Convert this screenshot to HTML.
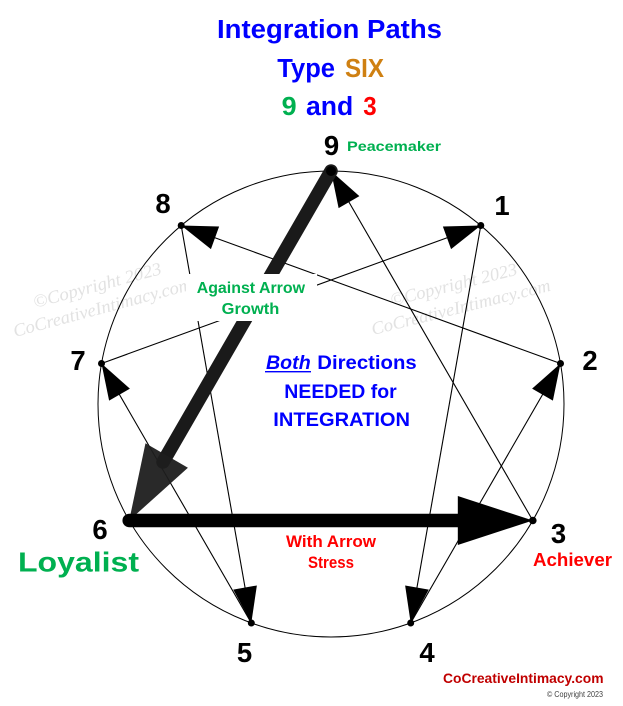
<!DOCTYPE html>
<html>
<head>
<meta charset="utf-8">
<style>
  html, body { margin: 0; padding: 0; background: #ffffff; }
  svg { display: block; }
  .sans { font-family: "Liberation Sans", Arial, sans-serif; font-weight: bold; }
  .serif { font-family: "Liberation Serif", "Times New Roman", serif; font-style: italic; }
</style>
</head>
<body>
<svg width="623" height="706" viewBox="0 0 623 706" xmlns="http://www.w3.org/2000/svg">
  <rect x="0" y="0" width="623" height="706" fill="#ffffff"/>

  <!-- watermarks -->
  <g class="serif" fill="#e2e2e2" font-size="18">
    <text x="35" y="308" transform="rotate(-15 35 308)" textLength="132" lengthAdjust="spacingAndGlyphs">©Copyright 2023</text>
    <text x="15" y="337" transform="rotate(-15 15 337)" textLength="184" lengthAdjust="spacingAndGlyphs">CoCreativeIntimacy.com</text>
    <text x="392" y="306" transform="rotate(-14 392 306)" textLength="130" lengthAdjust="spacingAndGlyphs">©Copyright 2023</text>
    <text x="373" y="335" transform="rotate(-14 373 335)" textLength="184" lengthAdjust="spacingAndGlyphs">CoCreativeIntimacy.com</text>
  </g>

  <!-- circle -->
  <circle cx="331" cy="404" r="233" fill="none" stroke="#000" stroke-width="1"/>

  <!-- thin lines -->
  <g stroke="#000" stroke-width="1.1" fill="none">
    <line x1="532.8" y1="520.5" x2="331" y2="171"/>
    <line x1="480.8" y1="225.5" x2="410.7" y2="623"/>
    <line x1="410.7" y1="623" x2="560.5" y2="363.5"/>
    <line x1="560.5" y1="363.5" x2="181.2" y2="225.5"/>
    <line x1="181.2" y1="225.5" x2="251.3" y2="623"/>
    <line x1="251.3" y1="623" x2="101.5" y2="363.5"/>
    <line x1="101.5" y1="363.5" x2="480.8" y2="225.5"/>
  </g>

  <!-- thin arrowheads -->
  <g fill="#000">
    <polygon points="331,171 359.39,196.18 338.61,208.18"/>
    <polygon points="480.8,225.5 451.07,249.09 442.87,226.53"/>
    <polygon points="181.2,225.5 219.13,226.53 210.93,249.09"/>
    <polygon points="560.5,363.5 552.89,400.68 532.11,388.68"/>
    <polygon points="101.5,363.5 129.89,388.68 109.11,400.68"/>
    <polygon points="251.3,623 233.23,589.62 256.87,585.46"/>
    <polygon points="410.7,623 405.13,585.46 428.77,589.62"/>
  </g>

  <!-- thick 9 -> 6 -->
  <line x1="331" y1="171" x2="163" y2="462" stroke="#1a1a1a" stroke-width="13.5" stroke-linecap="round"/>
  <polygon points="129.2,520.5 145.48,443.3 187.92,467.8" fill="#1e1e1e" fill-opacity="0.95"/>

  <!-- thick 6 -> 3 -->
  <line x1="129.2" y1="520.5" x2="462" y2="520.5" stroke="#000" stroke-width="13.5" stroke-linecap="round"/>
  <polygon points="532.8,520.5 457.8,496 457.8,545" fill="#000"/>

  <!-- dots -->
  <g fill="#000">
    <circle cx="331" cy="171" r="5"/>
    <circle cx="480.8" cy="225.5" r="3.5"/>
    <circle cx="560.5" cy="363.5" r="3.5"/>
    <circle cx="532.8" cy="520.5" r="3.8"/>
    <circle cx="410.7" cy="623" r="3.5"/>
    <circle cx="251.3" cy="623" r="3.5"/>
    <circle cx="129.2" cy="520.5" r="3.5"/>
    <circle cx="101.5" cy="363.5" r="3.5"/>
    <circle cx="181.2" cy="225.5" r="3.5"/>
  </g>

  <!-- white label box -->
  <rect x="186" y="274" width="131" height="47" fill="#ffffff"/>

  <!-- title -->
  <g class="sans" font-size="25.5">
    <text x="217" y="38" fill="#0000ff" textLength="225" lengthAdjust="spacingAndGlyphs">Integration Paths</text>
    <text x="277.3" y="77" fill="#0000ff" textLength="57.7" lengthAdjust="spacingAndGlyphs">Type</text>
    <text x="345" y="77" fill="#cf8012" textLength="39" lengthAdjust="spacingAndGlyphs">SIX</text>
    <text x="281.7" y="115" fill="#00b050" textLength="15" lengthAdjust="spacingAndGlyphs">9</text>
    <text x="306" y="115" fill="#0000ff" textLength="47.3" lengthAdjust="spacingAndGlyphs">and</text>
    <text x="363.3" y="115" fill="#ff0000" textLength="13.4" lengthAdjust="spacingAndGlyphs">3</text>
  </g>

  <!-- labels -->
  <g class="sans">
    <text x="347" y="151" font-size="14" fill="#00b050" textLength="94" lengthAdjust="spacingAndGlyphs">Peacemaker</text>
    <text x="196.7" y="293" font-size="16" fill="#00b050" textLength="108.3" lengthAdjust="spacingAndGlyphs">Against Arrow</text>
    <text x="221.7" y="314" font-size="16" fill="#00b050" textLength="57.6" lengthAdjust="spacingAndGlyphs">Growth</text>

    <text x="266" y="369" font-size="19" font-style="italic" fill="#0000ff" textLength="44.7" lengthAdjust="spacingAndGlyphs">Both</text>
    <rect x="265" y="371" width="46" height="1.4" fill="#0000ff"/>
    <text x="317.3" y="369" font-size="19" fill="#0000ff" textLength="99.4" lengthAdjust="spacingAndGlyphs">Directions</text>
    <text x="284.3" y="398" font-size="19.5" fill="#0000ff" textLength="112.4" lengthAdjust="spacingAndGlyphs">NEEDED for</text>
    <text x="273.3" y="426" font-size="19.5" fill="#0000ff" textLength="136.7" lengthAdjust="spacingAndGlyphs">INTEGRATION</text>

    <text x="286" y="547" font-size="16.5" fill="#ff0000" textLength="90" lengthAdjust="spacingAndGlyphs">With Arrow</text>
    <text x="308" y="568" font-size="16.5" fill="#ff0000" textLength="46" lengthAdjust="spacingAndGlyphs">Stress</text>

    <text x="533" y="566" font-size="18" fill="#ff0000" textLength="79" lengthAdjust="spacingAndGlyphs">Achiever</text>
    <text x="18" y="571.5" font-size="28" fill="#00b050" textLength="121" lengthAdjust="spacingAndGlyphs">Loyalist</text>

    <text x="443" y="683" font-size="14" fill="#c00000" textLength="160.5" lengthAdjust="spacingAndGlyphs">CoCreativeIntimacy.com</text>
  </g>
  <text x="547" y="697" font-family="Liberation Sans, Arial, sans-serif" font-size="8" fill="#404040" textLength="56" lengthAdjust="spacingAndGlyphs">© Copyright 2023</text>

  <!-- numbers -->
  <g class="sans" font-size="27.5" fill="#000" text-anchor="middle">
    <text x="331.5" y="155">9</text>
    <text x="163" y="213">8</text>
    <text x="502" y="215">1</text>
    <text x="590" y="370">2</text>
    <text x="78" y="370">7</text>
    <text x="100" y="539">6</text>
    <text x="558.5" y="543">3</text>
    <text x="244.5" y="662">5</text>
    <text x="427" y="662">4</text>
  </g>
</svg>
</body>
</html>
